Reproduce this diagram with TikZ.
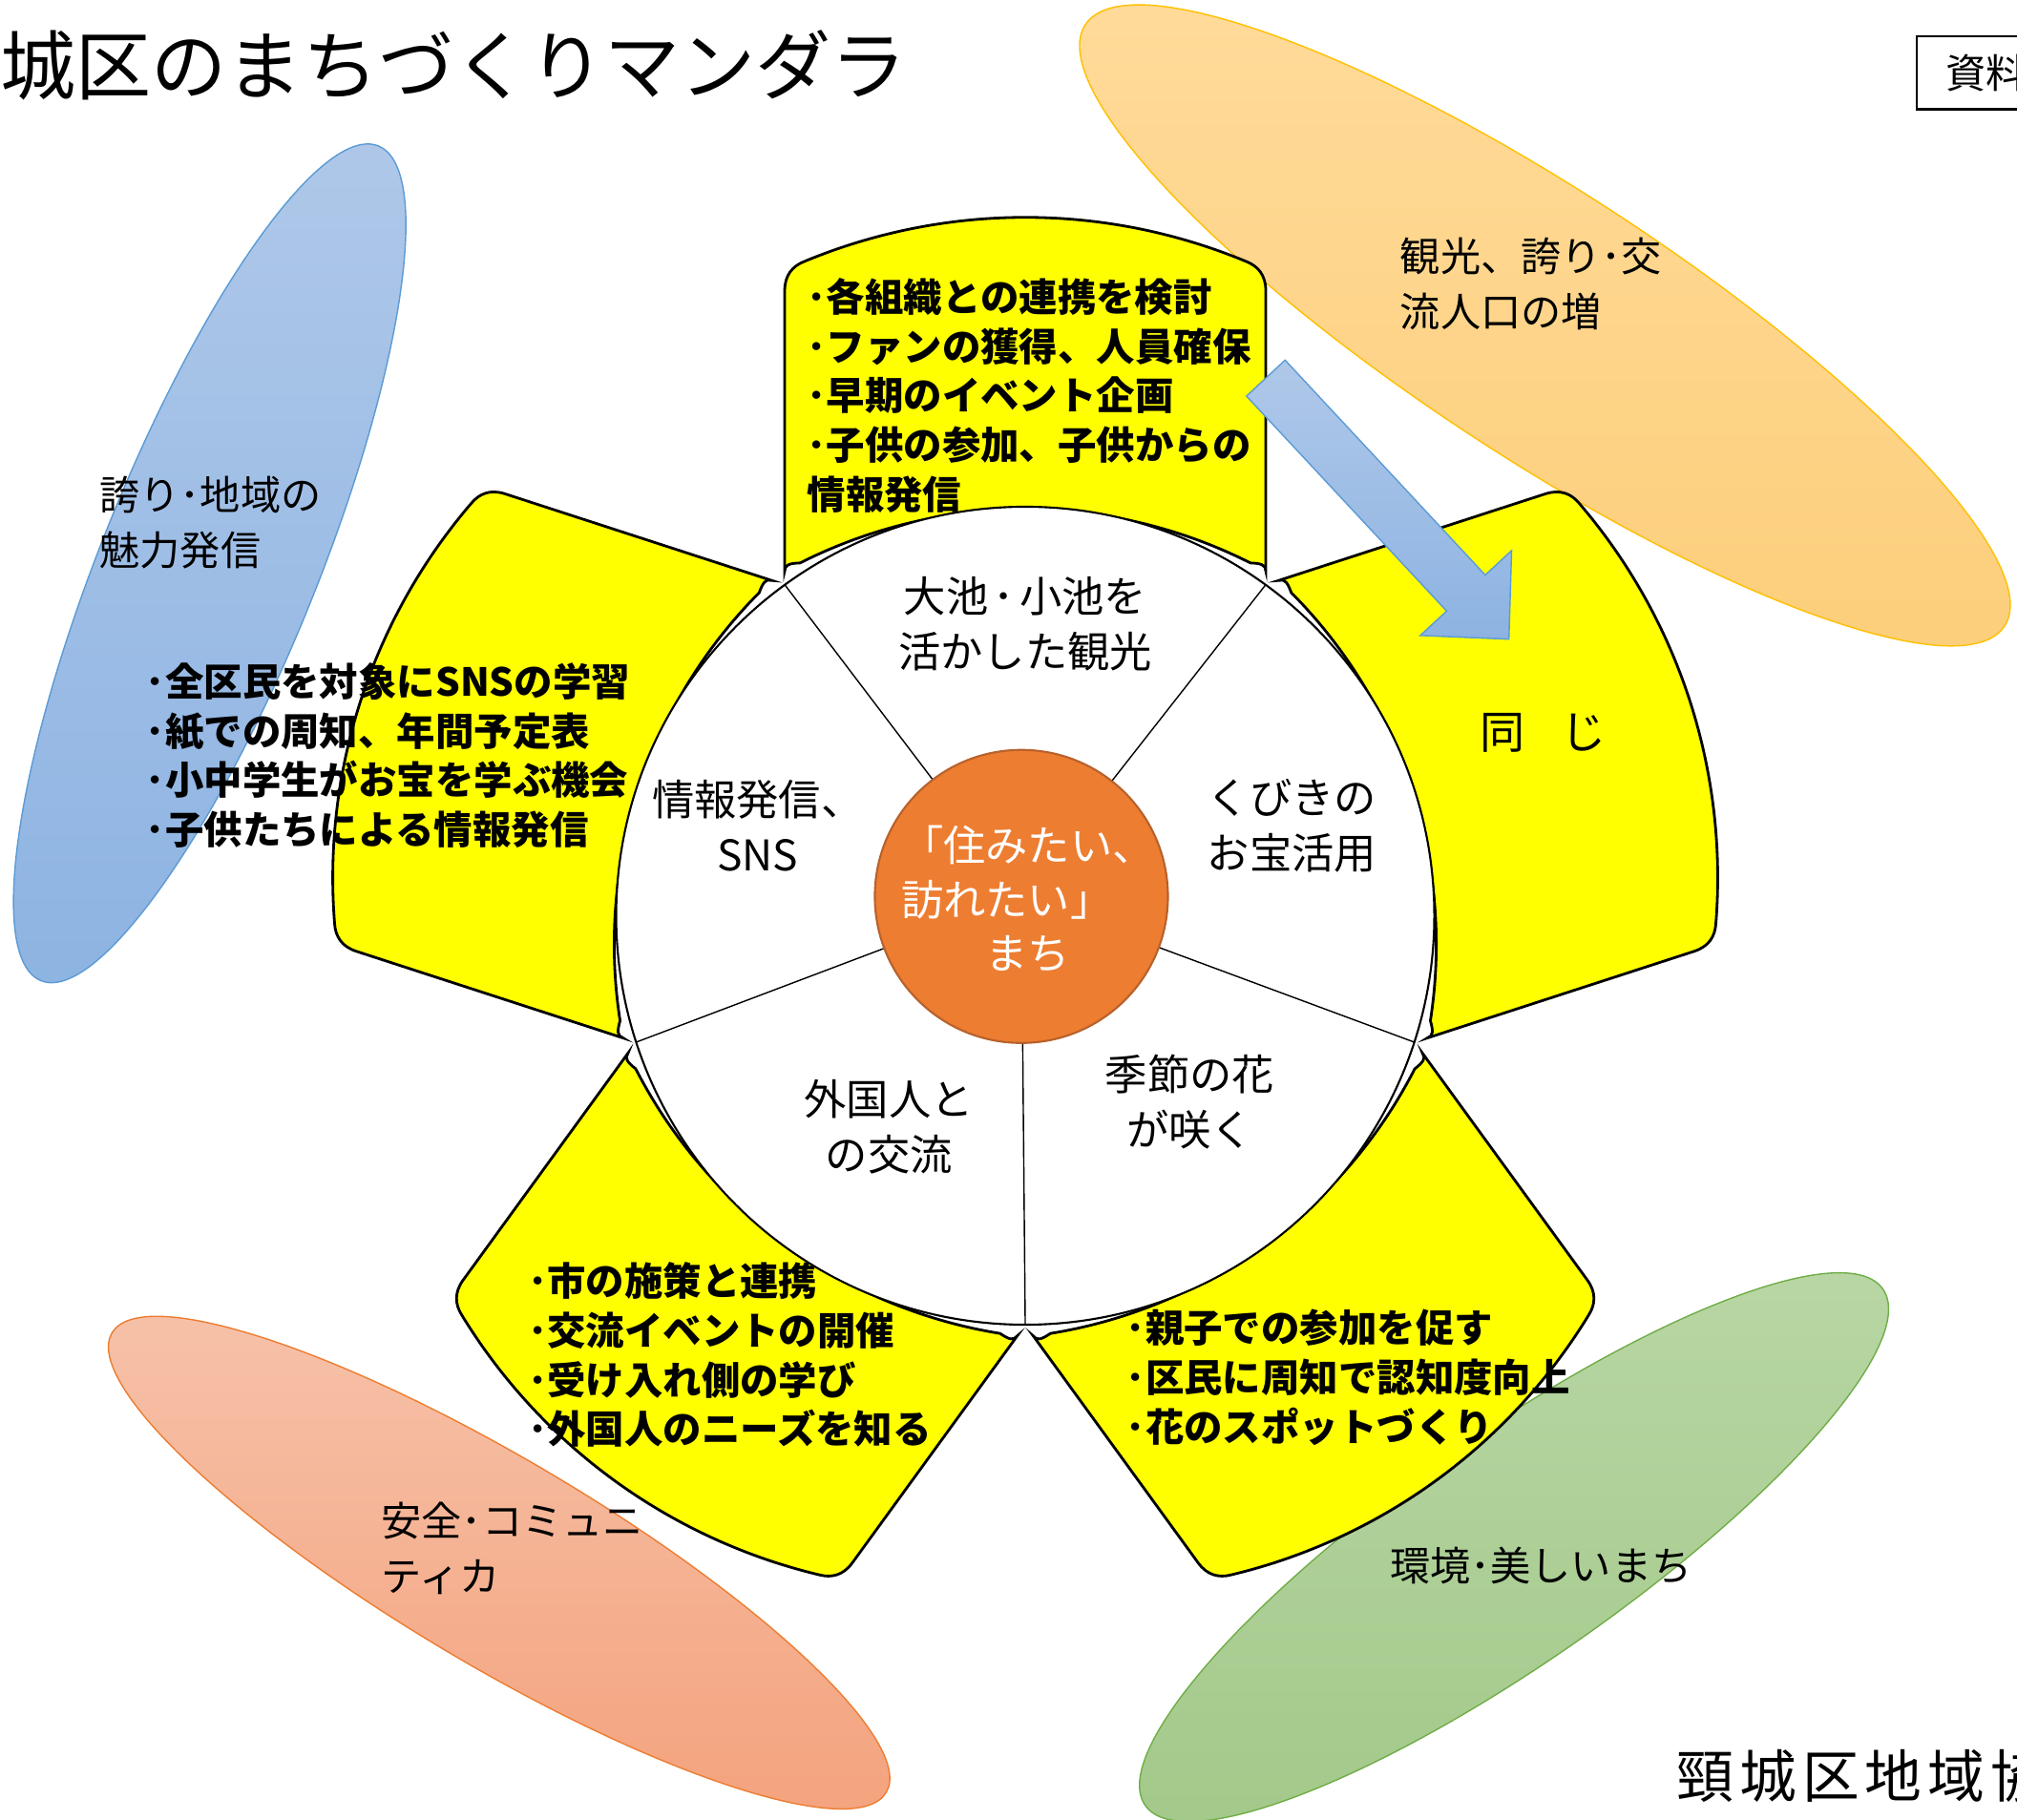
\documentclass[tikz,border=0pt]{standalone}
\usepackage{fontspec}
\setmainfont{Noto Sans CJK JP}
\definecolor{pyellow}{HTML}{FFFF00}
\definecolor{coreorange}{HTML}{ED7D31}
\definecolor{coreedge}{HTML}{B8612B}
\definecolor{blueA}{HTML}{AFC8E9}
\definecolor{blueB}{HTML}{8DB3E2}
\definecolor{blueEdge}{HTML}{5B9BD5}
\definecolor{orgA}{HTML}{FFDA98}
\definecolor{orgB}{HTML}{FCCF7C}
\definecolor{orgEdge}{HTML}{FFC000}
\definecolor{salA}{HTML}{F6C0A7}
\definecolor{salB}{HTML}{F4A47F}
\definecolor{salEdge}{HTML}{ED7D31}
\definecolor{grnA}{HTML}{B9D7A5}
\definecolor{grnB}{HTML}{A2C889}
\definecolor{grnEdge}{HTML}{70AD47}
\tikzset{
  petal/.style={fill=pyellow,draw=black,line width=0.8pt},
  pics/petalshape/.style={code={
    \draw[petal] (-187,-268) -- (-187,-486)
      .. controls (-187,-498) and (-181,-505) .. (-172,-508.6)
      .. controls (-117.5,-531.3) and (-59,-543) .. (0,-543)
      .. controls (59,-543) and (117.5,-531.3) .. (172,-508.6)
      .. controls (181,-505) and (187,-498) .. (187,-486)
      -- (187,-268)
      .. controls (187,-273) and (183,-274) .. (175,-274.3)
      .. controls (120.8,-301.7) and (60.8,-316) .. (0,-316)
      .. controls (-60.8,-316) and (-120.8,-301.7) .. (-175,-274.3)
      .. controls (-183,-274) and (-187,-273) .. (-187,-268) -- cycle;
  }},
  ellblue/.style={top color=blueA,bottom color=blueB,draw=blueEdge,line width=0.4pt},
  ellorg/.style={top color=orgA,bottom color=orgB,draw=orgEdge,line width=0.4pt},
  ellsal/.style={top color=salA,bottom color=salB,draw=salEdge,line width=0.4pt},
  ellgrn/.style={top color=grnA,bottom color=grnB,draw=grnEdge,line width=0.4pt},
  seglabel/.style={inner sep=0pt,font=\fontsize{12.6pt}{16.5pt}\selectfont},
  elllabel/.style={inner sep=0pt,anchor=west,align=left,font=\fontsize{12pt}{16.5pt}\selectfont},
  petaltext/.style={inner sep=0pt,anchor=west,align=left,font=\fontsize{11.5pt}{14.7pt}\selectfont\bfseries},
  spoke/.style={line width=0.4pt,draw=black},
  bluearrow/.style={top color=blueA,bottom color=blueB,draw=blueEdge,line width=0.4pt}
}
\begin{document}
\begin{tikzpicture}[x=0.013476cm,y=-0.013476cm]
\useasboundingbox (0,0) rectangle (1568,1415);
\clip (0,0) rectangle (1568,1415);
\fill[white] (0,0) rectangle (1568,1415);

% outer ellipses
\draw[ellblue,rotate around={68:(163,438)}] (163,438) ellipse [x radius=350, y radius=84];
\draw[ellorg,rotate around={-33.2:(1201,253)}] (1201,253) ellipse [x radius=427, y radius=103];
\draw[ellsal,rotate around={-30.7:(388,1215)}] (388,1215) ellipse [x radius=350, y radius=80];
\draw[ellgrn,rotate around={35:(1177,1203)}] (1177,1203) ellipse [x radius=350, y radius=88];

% petals
\coordinate (C) at (797,712);
\pic (pTop) at (C) {petalshape};
\pic (pUR) [rotate=-72] at (C) {petalshape};
\pic (pLR) [rotate=-144] at (C) {petalshape};
\pic (pLL) [rotate=-216] at (C) {petalshape};
\pic (pUL) [rotate=-288] at (C) {petalshape};

% big circle
\draw[fill=white,line width=0.6pt] (C) circle [radius=318];

% spokes end points
\coordinate (s1) at (610.1,454.7);
\coordinate (s2) at (983.9,454.7);
\coordinate (s3) at (1099.4,810.3);
\coordinate (s4) at (797,1030);
\coordinate (s5) at (494.6,810.3);

\node (core) [circle,fill=coreorange,draw=coreedge,line width=0.6pt,minimum size=3.07cm,inner sep=0pt] at (794,697) {};
\foreach \s in {s1,s2,s3,s4,s5} \draw[spoke] (core) -- (\s);

\node (coretext) [inner sep=0pt,anchor=west,align=left,text=white,font=\fontsize{12.6pt}{16.1pt}\selectfont] at (700,699) {「住みたい、\\訪れたい」\\\hspace{2em}まち};

% segment labels
\node (segTop) [seglabel,align=center] at (797,485) {大池\kern.12em･\kern.12em小池を\\活かした観光};
\node (segUL) [seglabel,align=center] at (589,642) {情報発信、\\SNS};
\node (segUR) [seglabel,align=left,anchor=west] at (938,642) {くびきの\\お宝活用};
\node (segLR) [seglabel,align=center] at (925,857) {季節の花\\が咲く};
\node (segLL) [seglabel,align=center] at (691,876) {外国人と\\の交流};

% petal texts
\node (tTop) [petaltext] at (627,307.5) {･各組織との連携を検討\\･ファンの獲得、人員確保\\･早期のイベント企画\\･子供の参加、子供からの\\情報発信};
\node (tUL) [petaltext] at (113,587.5) {･全区民を対象にSNSの学習\\･紙での周知、年間予定表\\･小中学生がお宝を学ぶ機会\\･子供たちによる情報発信};
\node (tLL) [petaltext] at (410,1053.5) {･市の施策と連携\\･交流イベントの開催\\･受け入れ側の学び\\･外国人のニーズを知る};
\node (tLR) [petaltext] at (875,1071) {･親子での参加を促す\\･区民に周知で認知度向上\\･花のスポットづくり};
\node (tUR) [inner sep=0pt,anchor=west,font=\fontsize{13.4pt}{16pt}\selectfont] at (1150,570) {同\hspace{0.8em}じ};

% ellipse labels
\node (eOrg) [elllabel] at (1088,221) {観光、誇り･交\\流人口の増};
\node (eBlue) [elllabel] at (77,406) {誇り･地域の\\魅力発信};
\node (eSal) [elllabel] at (296,1204) {安全･コミュニ\\ティカ};
\node (eGrn) [elllabel] at (1080,1217) {環境･美しいまち};

% blue arrow
\draw[bluearrow] (999,280) -- (1154.6,447.1) -- (1175.1,428.1) -- (1173,497) -- (1104.1,494.1) -- (1124.6,475.1) -- (969,308) -- cycle;

% title and corner texts
\node (title) [inner sep=0pt,anchor=west,font=\fontsize{22.5pt}{27pt}\selectfont] at (0,51) {城区のまちづくりマンダラ};
\draw[line width=0.6pt] (1490,28) rectangle (1640,85);
\node (shiryo) [inner sep=0pt,anchor=west,font=\fontsize{12pt}{14pt}\selectfont] at (1512,57) {資料};
\node (footer) [inner sep=0pt,anchor=west,font=\fontsize{17pt}{20pt}\selectfont] at (1303,1381) {頸\kern1.7pt城\kern1.7pt区\kern1.7pt地\kern1.7pt域\kern1.7pt協};
\end{tikzpicture}
\end{document}
